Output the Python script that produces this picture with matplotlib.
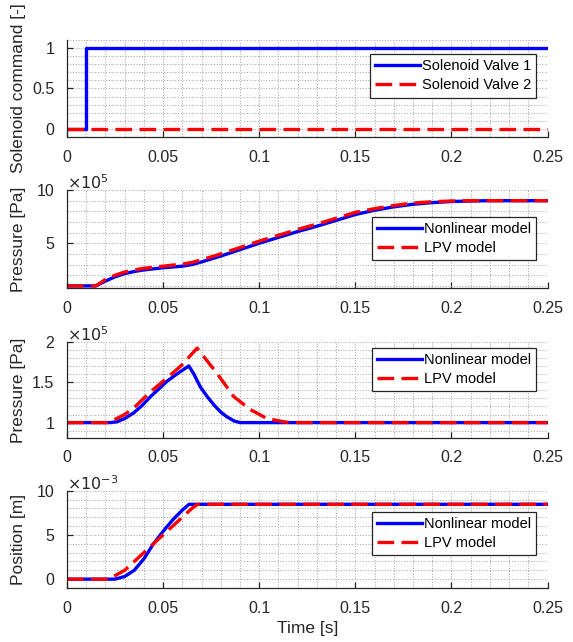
import matplotlib.pyplot as plt
from matplotlib.ticker import MultipleLocator, FormatStrFormatter

plt.rcParams['font.family'] = ['Liberation Sans', 'DejaVu Sans']

# --- solenoid commands
t_cmd1 = [0, 0.01, 0.01, 0.25]
cmd1 = [0, 0, 1, 1]
t_cmd2 = [0, 0.25]
cmd2 = [0, 0]

# --- chamber pressure [Pa]
t_p1 = [0, 0.015, 0.02, 0.025, 0.03, 0.035, 0.04, 0.05, 0.06, 0.065, 0.07, 0.08, 0.09,
        0.1, 0.11, 0.12, 0.13, 0.14, 0.15, 0.16, 0.17, 0.18, 0.19, 0.2, 0.21, 0.22, 0.25]
p1_nl = [1.0e5, 1.0e5, 1.45e5, 1.85e5, 2.15e5, 2.35e5, 2.5e5, 2.7e5, 2.85e5, 3.0e5, 3.25e5,
         3.8e5, 4.4e5, 5.0e5, 5.55e5, 6.1e5, 6.6e5, 7.15e5, 7.7e5, 8.1e5, 8.42e5, 8.66e5,
         8.82e5, 8.92e5, 8.97e5, 9.0e5, 9.0e5]
p1_lpv = [1.0e5, 1.0e5, 1.6e5, 2.0e5, 2.3e5, 2.5e5, 2.65e5, 2.85e5, 3.05e5, 3.2e5, 3.45e5,
          4.0e5, 4.6e5, 5.2e5, 5.75e5, 6.3e5, 6.8e5, 7.35e5, 7.9e5, 8.25e5, 8.55e5, 8.78e5,
          8.9e5, 8.97e5, 9.0e5, 9.0e5, 9.0e5]

# --- second pressure [Pa]
t_p2_nl = [0, 0.0226, 0.026, 0.03, 0.0347, 0.039, 0.0434, 0.048, 0.052, 0.056, 0.059, 0.0634,
           0.066, 0.0694, 0.073, 0.0764, 0.08, 0.0833, 0.087, 0.09, 0.25]
p2_nl = [1.0e5, 1.0e5, 1.01e5, 1.05e5, 1.12e5, 1.21e5, 1.32e5, 1.42e5, 1.51e5, 1.58e5, 1.63e5,
         1.70e5, 1.6e5, 1.44e5, 1.32e5, 1.22e5, 1.13e5, 1.07e5, 1.02e5, 1.0e5, 1.0e5]
t_p2_lpv = [0, 0.0208, 0.025, 0.03, 0.0347, 0.0434, 0.052, 0.0597, 0.0677, 0.078, 0.0868,
            0.0955, 0.104, 0.1128, 0.116, 0.25]
p2_lpv = [1.0e5, 1.0e5, 1.04e5, 1.10e5, 1.18e5, 1.38e5, 1.55e5, 1.71e5, 1.92e5, 1.61e5, 1.32e5,
          1.16e5, 1.05e5, 1.01e5, 1.0e5, 1.0e5]

# --- spool position [m]
t_x_nl = [0, 0.025, 0.03, 0.035, 0.04, 0.045, 0.05, 0.055, 0.06, 0.0635, 0.25]
x_nl = [0, 0, 0.3e-3, 1.0e-3, 2.3e-3, 4.0e-3, 5.4e-3, 6.7e-3, 7.8e-3, 8.46e-3, 8.46e-3]
t_x_lpv = [0, 0.0217, 0.03, 0.04, 0.05, 0.06, 0.065, 0.068, 0.25]
x_lpv = [0, 0, 1.0e-3, 3.0e-3, 5.0e-3, 7.0e-3, 8.0e-3, 8.46e-3, 8.46e-3]

fig = plt.figure(figsize=(5.73, 6.42), dpi=100)
L, W = 0.1169, 0.8386
axs = [fig.add_axes([L, 0.7866, W, 0.1511]),
       fig.add_axes([L, 0.5514, W, 0.1526]),
       fig.add_axes([L, 0.3178, W, 0.1500]),
       fig.add_axes([L, 0.0841, W, 0.1516])]

lw = 2.4
dash = (5, 2.2)

def style(ax, ylim, ymaj, ymin, ylabel, legtop):
    ax.set_xlim(0, 0.25)
    ax.set_ylim(*ylim)
    ax.xaxis.set_major_locator(MultipleLocator(0.05))
    ax.xaxis.set_minor_locator(MultipleLocator(0.01))
    ax.yaxis.set_major_locator(MultipleLocator(ymaj))
    ax.yaxis.set_minor_locator(MultipleLocator(ymin))
    ax.xaxis.set_major_formatter(FormatStrFormatter('%g'))
    ax.yaxis.set_major_formatter(FormatStrFormatter('%g'))
    ax.grid(True, which='both', linestyle=':', color='#a8a8a8', linewidth=0.75)
    ax.set_axisbelow(True)
    for s in ['top', 'right']:
        ax.spines[s].set_visible(False)
    for s in ['left', 'bottom']:
        ax.spines[s].set_color('#262626')
        ax.spines[s].set_linewidth(0.9)
    ax.tick_params(which='major', direction='in', length=4, width=0.9, colors='#262626',
                   labelsize=11.5, pad=9)
    ax.tick_params(which='minor', length=0)
    ax.set_ylabel(ylabel, fontsize=12.5, color='#262626')
    ax.yaxis.set_label_coords(-0.085, 0.5)
    leg = ax.legend(loc='upper right', bbox_to_anchor=(0.977, legtop), fontsize=10.5,
                    fancybox=False, framealpha=1, edgecolor='#262626', handlelength=3.1,
                    handletextpad=0.15, borderpad=0.35, labelspacing=0.35, borderaxespad=0)
    leg.get_frame().set_linewidth(0.9)

ax = axs[0]
ax.plot(t_cmd1, cmd1, color='blue', lw=lw, label='Solenoid Valve 1')
ax.plot(t_cmd2, cmd2, color='red', lw=lw, ls=(0, dash), label='Solenoid Valve 2')
style(ax, (-0.1, 1.1), 0.5, 0.1, 'Solenoid command [-]', 0.853)

ax = axs[1]
ax.plot(t_p1, [p / 1e5 for p in p1_nl], color='blue', lw=lw, label='Nonlinear model')
ax.plot(t_p1, [p / 1e5 for p in p1_lpv], color='red', lw=lw, ls=(0, dash), label='LPV model')
style(ax, (0.8, 10), 5, 1, 'Pressure [Pa]', 0.724)
ax.text(0, 1.01, r'$\times 10^5$', transform=ax.transAxes, fontsize=11.5, color='#262626')

ax = axs[2]
ax.plot(t_p2_nl, [p / 1e5 for p in p2_nl], color='blue', lw=lw, label='Nonlinear model')
ax.plot(t_p2_lpv, [p / 1e5 for p in p2_lpv], color='red', lw=lw, ls=(0, dash), label='LPV model')
style(ax, (0.81, 2), 0.5, 0.1, 'Pressure [Pa]', 0.938)
ax.text(0, 1.01, r'$\times 10^5$', transform=ax.transAxes, fontsize=11.5, color='#262626')

ax = axs[3]
ax.plot(t_x_nl, [x * 1e3 for x in x_nl], color='blue', lw=lw, label='Nonlinear model')
ax.plot(t_x_lpv, [x * 1e3 for x in x_lpv], color='red', lw=lw, ls=(0, dash), label='LPV model')
style(ax, (-1, 10), 5, 1, 'Position [m]', 0.781)
ax.text(0, 1.01, r'$\times 10^{-3}$', transform=ax.transAxes, fontsize=11.5, color='#262626')
ax.set_xlabel('Time [s]', fontsize=12.5, color='#262626')

fig.savefig('out.png', dpi=100)
